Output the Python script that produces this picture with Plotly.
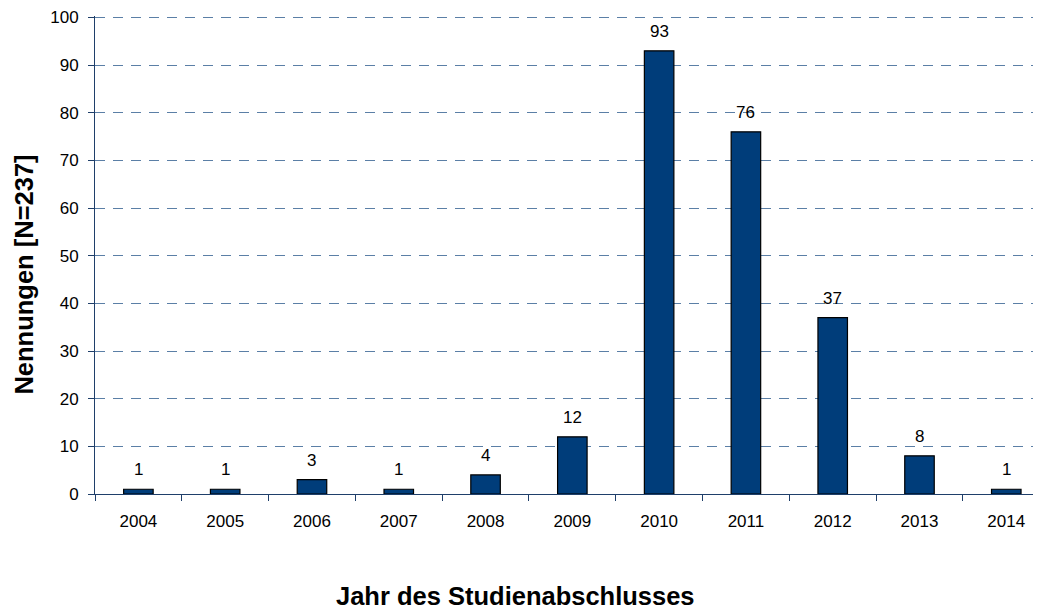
import plotly.graph_objects as go

jahre = ["2004", "2005", "2006", "2007", "2008", "2009", "2010", "2011", "2012", "2013", "2014"]
nennungen = [1, 1, 3, 1, 4, 12, 93, 76, 37, 8, 1]

achse = "#1f3f6a"
gitter = "#5b7fa6"

fig = go.Figure()
fig.add_trace(go.Bar(
    x=list(range(len(jahre))), y=nennungen, width=0.34,
    marker=dict(color="#003d7a", line=dict(color="black", width=1.2)),
))

# Werte über den Balken
for i, n in enumerate(nennungen):
    fig.add_annotation(x=i, y=n, text=str(n), showarrow=False,
                       yanchor="bottom", yshift=8,
                       font=dict(size=17, color="black"))

# Achsentitel
fig.add_annotation(text="<b>Jahr des Studienabschlusses</b>", xref="paper", yref="paper",
                   x=0.444, y=0, yanchor="middle", yshift=-102, showarrow=False,
                   font=dict(size=25.5, color="black"))
fig.add_annotation(text="<b>Nennungen [N=237]</b>", xref="paper", yref="paper",
                   x=0, y=0.459, xanchor="center", xshift=-71, textangle=-90, showarrow=False,
                   font=dict(size=25.5, color="black"))

fig.update_layout(
    width=1033, height=602,
    margin=dict(l=87, r=0, t=8, b=116),
    plot_bgcolor="white", paper_bgcolor="white",
    font=dict(family="Liberation Sans, Arial", size=17, color="black"),
    showlegend=False,
    xaxis=dict(
        range=[-0.5, 10.4],
        tickmode="array", tickvals=list(range(len(jahre))), ticktext=jahre,
        ticks="", showline=True, linecolor=achse, linewidth=1,
        showgrid=False, zeroline=False,
        minor=dict(tickmode="array", tickvals=[i - 0.5 for i in range(len(jahre) + 1)],
                   ticks="outside", ticklen=6, tickcolor=achse, showgrid=False),
        ticklabelstandoff=12,
    ),
    yaxis=dict(
        range=[0, 100.3], tickmode="array", tickvals=list(range(0, 101, 10)),
        ticks="outside", ticklen=6, tickcolor=achse,
        showline=True, linecolor=achse, linewidth=1,
        showgrid=True, gridcolor=gitter, griddash="10px,8px", gridwidth=1,
        zeroline=False, ticklabelstandoff=6, ticklabeloverflow="allow",
    ),
)

fig.write_html("out.html")
